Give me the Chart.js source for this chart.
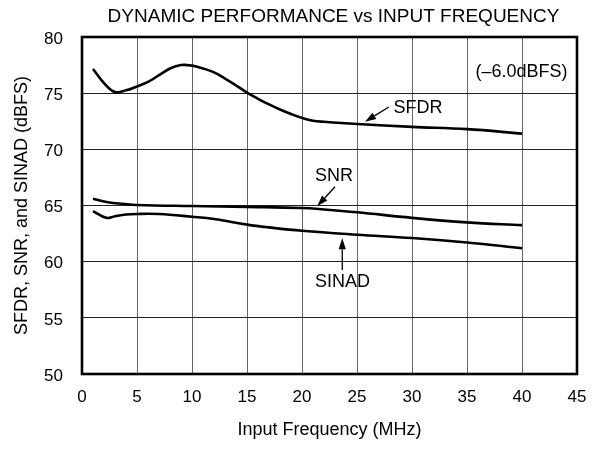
<!DOCTYPE html>
<html>
<head>
<meta charset="utf-8">
<script src="https://cdn.jsdelivr.net/npm/chart.js@4"></script>
<style>
  html, body { margin: 0; padding: 0; background: #fff; }
  #wrap { width: 605px; height: 449px; }
</style>
</head>
<body>
<div id="wrap"><canvas id="chart"></canvas></div>
<script>
// values (MHz, dBFS)
let sfdrFreq = [1, 2, 3, 4, 5, 6, 7, 8, 9, 10, 11, 12, 13, 14, 15, 16, 17, 18, 19, 20, 21, 22, 25, 30, 35, 40];
let sfdrVals = [77.15, 75.9, 75.1, 75.25, 75.6, 76.0, 76.6, 77.2, 77.5, 77.45, 77.2, 76.85, 76.3, 75.7, 75.05, 74.5, 74.0, 73.55, 73.15, 72.8, 72.55, 72.45, 72.25, 72.0, 71.8, 71.4];

let snrFreq = [1, 2, 3, 5, 10, 15, 20, 22, 25, 30, 35, 40];
let snrVals = [65.6, 65.35, 65.2, 65.05, 64.95, 64.88, 64.78, 64.65, 64.4, 63.9, 63.5, 63.25];

let sinadFreq = [1, 2.2, 3, 4, 5, 7, 10, 12, 15, 17, 20, 25, 30, 35, 40];
let sinadVals = [64.5, 63.9, 64.05, 64.2, 64.25, 64.24, 64.0, 63.8, 63.3, 63.05, 62.75, 62.4, 62.1, 61.7, 61.2];

let xTicks = [0, 5, 10, 15, 20, 25, 30, 35, 40, 45];
let yTicks = [50, 55, 60, 65, 70, 75, 80];

let chartTitle = 'DYNAMIC PERFORMANCE vs INPUT FREQUENCY';

// labels and arrows, in data units
let notes = [
    { text: '(\u20136.0dBFS)', x: 39.95, y: 76.85 },
    { text: 'SFDR', x: 30.55, y: 73.68 },
    { text: 'SNR', x: 22.9, y: 67.63 },
    { text: 'SINAD', x: 23.68, y: 58.19 }
];
let arrows = [
    { x1: 27.9, y1: 73.77, x2: 25.73, y2: 72.46 },
    { x1: 23.0, y1: 66.67, x2: 21.39, y2: 64.95 },
    { x1: 23.66, y1: 59.26, x2: 23.66, y2: 62.08 }
];

const FONT = '"Liberation Sans", Arial, Helvetica, sans-serif';

function toPoints(xs, ys) {
    let pts = [];
    for (let i = 0; i < xs.length; i++) {
        pts.push({ x: xs[i], y: ys[i] });
    }
    return pts;
}

const notesPlugin = {
    id: 'notes',
    afterDraw(chart) {
        const ctx = chart.ctx;
        const sx = chart.scales.x;
        const sy = chart.scales.y;
        const area = chart.chartArea;
        ctx.save();
        // frame
        ctx.strokeStyle = '#000';
        ctx.lineWidth = 2.6;
        ctx.strokeRect(area.left, area.top, area.right - area.left, area.bottom - area.top);

        ctx.fillStyle = '#000';
        ctx.textAlign = 'center';
        ctx.textBaseline = 'middle';

        // title, a little right of the plot centre like the original
        ctx.font = '19px ' + FONT;
        ctx.fillText(chartTitle, (area.left + area.right) / 2 + 4, 17);

        ctx.font = '18px ' + FONT;
        notes.forEach(n => {
            ctx.fillText(n.text, sx.getPixelForValue(n.x), sy.getPixelForValue(n.y));
        });

        ctx.lineWidth = 1.3;
        arrows.forEach(a => {
            const x1 = sx.getPixelForValue(a.x1), y1 = sy.getPixelForValue(a.y1);
            const x2 = sx.getPixelForValue(a.x2), y2 = sy.getPixelForValue(a.y2);
            const ang = Math.atan2(y2 - y1, x2 - x1);
            const len = 11, half = 3.6;
            const bx = x2 - Math.cos(ang) * len, by = y2 - Math.sin(ang) * len;
            ctx.beginPath();
            ctx.moveTo(x1, y1);
            ctx.lineTo(bx, by);
            ctx.stroke();
            ctx.beginPath();
            ctx.moveTo(x2, y2);
            ctx.lineTo(bx + Math.sin(ang) * half, by - Math.cos(ang) * half);
            ctx.lineTo(bx - Math.sin(ang) * half, by + Math.cos(ang) * half);
            ctx.closePath();
            ctx.fill();
        });
        ctx.restore();
    }
};

const lineStyle = {
    borderColor: '#000',
    borderWidth: 2.6,
    pointRadius: 0,
    fill: false,
    tension: 0.4
};

new Chart(document.getElementById('chart'), {
    type: 'line',
    data: {
        datasets: [
            Object.assign({ label: 'SFDR', data: toPoints(sfdrFreq, sfdrVals) }, lineStyle),
            Object.assign({ label: 'SNR', data: toPoints(snrFreq, snrVals) }, lineStyle),
            Object.assign({ label: 'SINAD', data: toPoints(sinadFreq, sinadVals) }, lineStyle)
        ]
    },
    options: {
        responsive: true,
        maintainAspectRatio: false,
        animation: false,
        layout: { padding: { left: 0, right: 28, top: 37, bottom: 0 } },
        plugins: {
            legend: { display: false },
            tooltip: { enabled: false },
            title: { display: false }
        },
        scales: {
            x: {
                type: 'linear',
                min: 0,
                max: 45,
                afterBuildTicks: s => { s.ticks = xTicks.map(v => ({ value: v })); },
                afterFit: s => { s.height = 75; },
                grid: { color: '#666', lineWidth: 1, drawTicks: false },
                border: { display: false },
                ticks: { color: '#000', padding: 13, font: { family: FONT, size: 17 } },
                title: {
                    display: true,
                    text: 'Input Frequency (MHz)',
                    color: '#000',
                    font: { family: FONT, size: 18 },
                    padding: { top: 0, bottom: 8 }
                }
            },
            y: {
                min: 50,
                max: 80,
                afterBuildTicks: s => { s.ticks = yTicks.map(v => ({ value: v })); },
                afterFit: s => { s.width = 82; },
                grid: { color: '#222', lineWidth: 1, drawTicks: false },
                border: { display: false },
                ticks: { color: '#000', padding: 19, labelOffset: 2, font: { family: FONT, size: 17 } },
                title: {
                    display: true,
                    text: 'SFDR, SNR, and SINAD (dBFS)',
                    color: '#000',
                    font: { family: FONT, size: 18 },
                    padding: { top: 11, bottom: 0 }
                }
            }
        }
    },
    plugins: [notesPlugin]
});
</script>
</body>
</html>
